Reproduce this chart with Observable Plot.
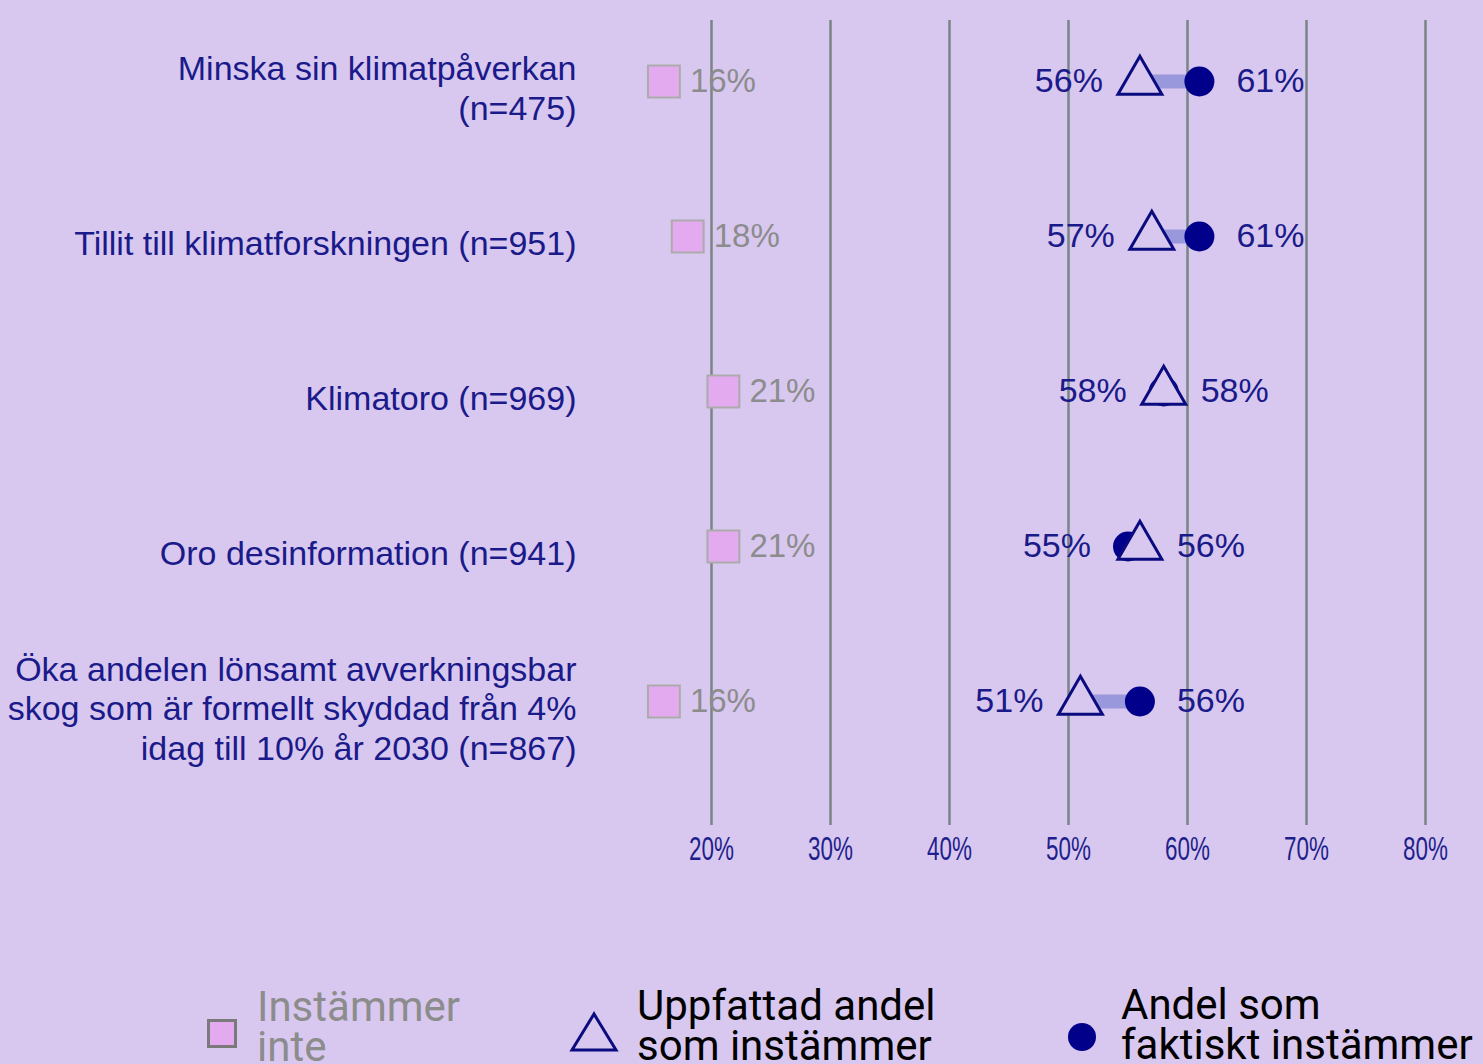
<!DOCTYPE html>
<html><head><meta charset="utf-8">
<script src="https://cdn.jsdelivr.net/npm/d3@7"></script>
<script src="https://cdn.jsdelivr.net/npm/@observablehq/plot@0.6"></script>
<style>
html,body{margin:0;padding:0;background:#d8c8ef;}
#wrap{position:relative;width:1483px;height:1064px;overflow:hidden;background:#d8c8ef;}
#chart{position:absolute;left:0;top:0;}
#legend{position:absolute;left:0;top:900px;}
</style></head><body>
<div id="wrap"><div id="chart"></div>
<svg id="legend" width="1483" height="164" font-family="Roboto, sans-serif" font-size="42">
  <rect x="208.5" y="120.5" width="27" height="26" fill="#e4aaf0" stroke="#7a7a7a" stroke-width="3"/>
  <text x="257" fill="#8c8c8c"><tspan x="257" y="121">Instämmer</tspan><tspan x="257" y="161">inte</tspan></text>
  <polygon points="594,114 572,150 616,150" fill="none" stroke="#0b0b80" stroke-width="3"/>
  <text x="637" fill="#000"><tspan x="637" y="120">Uppfattad andel</tspan><tspan x="637" y="160">som instämmer</tspan></text>
  <circle cx="1082" cy="137" r="14" fill="#00008b"/>
  <text x="1121" fill="#000"><tspan x="1121" y="119">Andel som</tspan><tspan x="1121" y="159">faktiskt instämmer</tspan></text>
</svg>
</div>
<script>
const categories = [
  "Minska sin klimatpåverkan\n(n=475)",
  "Tillit till klimatforskningen (n=951)",
  "Klimatoro (n=969)",
  "Oro desinformation (n=941)",
  "Öka andelen lönsamt avverkningsbar\nskog som är formellt skyddad från 4%\nidag till 10% år 2030 (n=867)"
];
const disagree = [16, 18, 21, 21, 16];
const perceived = [56, 57, 58, 56, 51];
const actual = [61, 61, 58, 55, 56];
const xTicks = [20, 30, 40, 50, 60, 70, 80];

const rows = categories.map((c, i) => ({c, dis: disagree[i], p: perceived[i], a: actual[i]}));
const bg = "#d8c8ef";
const navy = "#0b0b80";
const labelNavy = "#1a1a8a";

const plot = Plot.plot({
  width: 1483, height: 900,
  marginTop: 20, marginBottom: 75, marginLeft: 600, marginRight: 0,
  style: {background: "transparent", fontFamily: "'Liberation Sans', Arial, sans-serif"},
  x: {domain: [20, 80], range: [711, 1425]},
  y: {type: "point", domain: categories, range: [80, 702], padding: 0, axis: null},
  marks: [
    Plot.ruleX(xTicks, {stroke: "#7a8484", strokeWidth: 2.5}),
    Plot.axisX({ticks: xTicks, tickFormat: d => d + "%", tickSize: 0, tickPadding: 11, fontSize: 33, color: "#1f1f8c"}),
    Plot.text(rows, {y: "c", text: "c", frameAnchor: "left", textAnchor: "end", dx: -24, dy: 6, fontSize: 34, lineHeight: 1.16, fill: labelNavy}),
    Plot.dot(rows, {x: "dis", y: "c", symbol: "square", r: 18, fill: "#e4aaf0", stroke: "#ababab", strokeWidth: 2}),
    Plot.text(rows, {x: "dis", y: "c", text: d => d.dis + "%", textAnchor: "start", dx: 26, fontSize: 33, fill: "#8c8c8c"}),
    Plot.link(rows, {x1: "p", x2: "a", y1: "c", y2: "c", stroke: "#8f8fd8", strokeWidth: 14, strokeOpacity: 0.85}),
    Plot.dot(rows, {x: "a", y: "c", r: 15, fill: "#00008b"}),
    Plot.dot(rows, {x: "p", y: "c", symbol: "triangle", r: 16.3, fill: bg, stroke: navy, strokeWidth: 3}),
    Plot.text(rows, {x: d => Math.min(d.p, d.a), y: "c", text: d => Math.min(d.p, d.a) + "%", textAnchor: "end", dx: -37, fontSize: 34, fill: labelNavy}),
    Plot.text(rows, {x: d => Math.max(d.p, d.a), y: "c", text: d => Math.max(d.p, d.a) + "%", textAnchor: "start", dx: 37, fontSize: 34, fill: labelNavy})
  ]
});
plot.querySelectorAll('g[aria-label="x-axis tick label"] text').forEach(t => {
  const tr = t.getAttribute("transform") || "";
  t.setAttribute("transform", tr + " scale(0.68,1)");
});
document.getElementById("chart").appendChild(plot);
</script>
</body></html>
